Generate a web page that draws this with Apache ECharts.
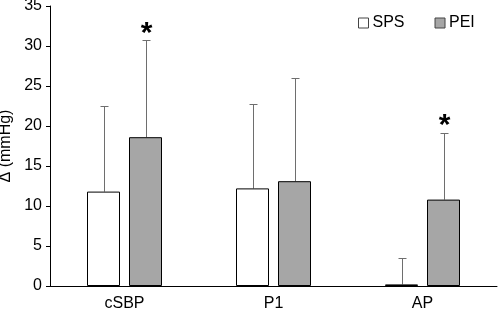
<!DOCTYPE html>
<html>
<head>
<meta charset="utf-8">
<script src="https://cdn.jsdelivr.net/npm/echarts@6/dist/echarts.min.js"></script>
<style>
  html, body { margin: 0; padding: 0; background: #fff; }
  #chart { width: 498px; height: 311px; }
</style>
</head>
<body>
<div id="chart"></div>
<script>
// values (mmHg)
const categories = ['cSBP', 'P1', 'AP'];
const spsMean = [11.8, 12.2, 0.2];
const spsErrTop = [22.5, 22.7, 3.5];
const peiMean = [18.6, 13.1, 10.8];
const peiErrTop = [30.7, 26.0, 19.1];
const peiSignificant = [true, false, true];

const FONT = 'Liberation Sans, Arial, sans-serif';
const BAR_W = 33;
const BAR_GAP = 9;

function errorSeries (name, means, tops, side, stars) {
  return {
    name: name + ' err',
    type: 'custom',
    silent: true,
    z: 1,
    data: categories.map((c, i) => [i, means[i], tops[i], stars ? (stars[i] ? 1 : 0) : 0]),
    renderItem (params, api) {
      const base = api.coord([api.value(0), api.value(1)]);
      const top = api.coord([api.value(0), api.value(2)]);
      const x = Math.round(base[0] + side * (BAR_W + BAR_GAP) / 2) + 0.5;
      const yTop = Math.round(top[1]) + 0.5;
      const children = [
        { type: 'line', shape: { x1: x, y1: base[1], x2: x, y2: yTop },
          style: { stroke: '#6e6e6e', lineWidth: 1 } },
        { type: 'line', shape: { x1: x - 4, y1: yTop, x2: x + 4, y2: yTop },
          style: { stroke: '#6e6e6e', lineWidth: 1 } }
      ];
      if (api.value(3)) {
        children.push({
          type: 'text',
          style: { text: '*', x: x, y: top[1] - 7, align: 'center', verticalAlign: 'middle',
            font: 'bold 30px ' + FONT, fill: '#000' }
        });
      }
      return { type: 'group', children: children };
    }
  };
}

const chart = echarts.init(document.getElementById('chart'));
chart.setOption({
  animation: false,
  grid: { left: 50, right: 1, top: 6, bottom: 25, outerBoundsMode: 'none', containLabel: false },
  legend: {
    data: ['SPS', 'PEI'],
    icon: 'rect',
    left: 353,
    top: 10,
    itemWidth: 10,
    itemHeight: 10,
    itemGap: 30,
    itemStyle: { borderColor: '#444', borderWidth: 1 },
    textStyle: { fontFamily: FONT, fontSize: 16, color: '#000', padding: [0, 0, 0, -1] }
  },
  xAxis: {
    type: 'category',
    data: categories,
    axisLine: { lineStyle: { color: '#000', width: 1 } },
    axisTick: { lineStyle: { color: '#000' }, length: 4 },
    axisLabel: { color: '#000', fontFamily: FONT, fontSize: 16, margin: 10 }
  },
  yAxis: {
    type: 'value',
    min: 0,
    max: 35,
    interval: 5,
    name: 'Δ (mmHg)',
    nameLocation: 'middle',
    nameGap: 34,
    nameTextStyle: { color: '#000', fontFamily: FONT, fontSize: 16 },
    axisLine: { show: true, lineStyle: { color: '#000', width: 1 } },
    axisTick: { show: true, length: 4, lineStyle: { color: '#000' } },
    axisLabel: { color: '#000', fontFamily: FONT, fontSize: 16, margin: 8 },
    splitLine: { show: false }
  },
  series: [
    {
      name: 'SPS',
      type: 'bar',
      data: spsMean,
      barWidth: BAR_W,
      barGap: (BAR_GAP / BAR_W * 100) + '%',
      z: 2,
      itemStyle: { color: '#fff', borderColor: '#000', borderWidth: 1 }
    },
    {
      name: 'PEI',
      type: 'bar',
      data: peiMean,
      barWidth: BAR_W,
      z: 2,
      itemStyle: { color: '#a6a6a6', borderColor: '#000', borderWidth: 1 }
    },
    errorSeries('SPS', spsMean, spsErrTop, -1, null),
    errorSeries('PEI', peiMean, peiErrTop, 1, peiSignificant)
  ]
});
</script>
</body>
</html>
